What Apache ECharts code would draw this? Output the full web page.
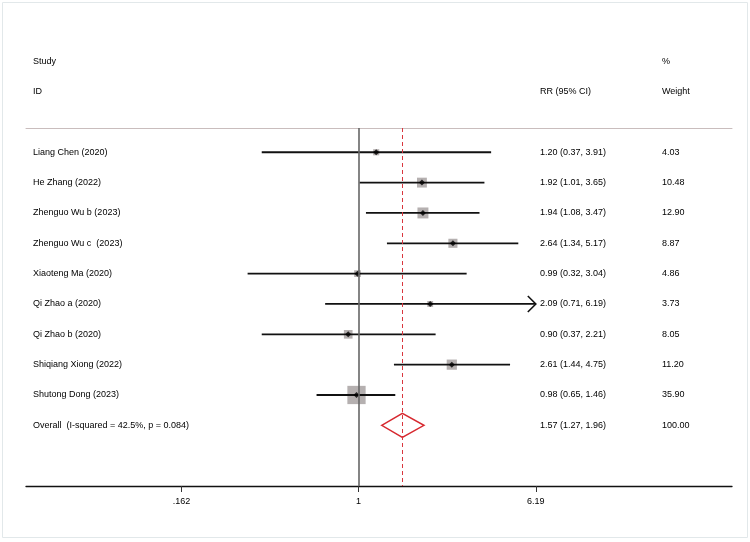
<!DOCTYPE html>
<html><head><meta charset="utf-8">
<script src="https://cdn.jsdelivr.net/npm/echarts@6/dist/echarts.min.js"></script>
<style>html,body{margin:0;padding:0;background:#fff}#c{width:750px;height:542px}</style>
</head><body><div id="c"></div>
<script>
// ---- data ----
const studies = ['Liang Chen (2020)','He Zhang (2022)','Zhenguo Wu b (2023)','Zhenguo Wu c  (2023)','Xiaoteng Ma (2020)','Qi Zhao a (2020)','Qi Zhao b (2020)','Shiqiang Xiong (2022)','Shutong Dong (2023)'];
const rr     = [1.20, 1.92, 1.94, 2.64, 0.99, 2.09, 0.90, 2.61, 0.98];
const ciLow  = [0.37, 1.01, 1.08, 1.34, 0.32, 0.71, 0.37, 1.44, 0.65];
const ciHigh = [3.91, 3.65, 3.47, 5.17, 3.04, 6.19, 2.21, 4.75, 1.46];
const weights = [4.03, 10.48, 12.90, 8.87, 4.86, 3.73, 8.05, 11.20, 35.90];
const overallLabel = 'Overall  (I-squared = 42.5%, p = 0.084)';
const overallRR = 1.57, overallLow = 1.27, overallHigh = 1.96, overallWeight = 100.00;
const tickValues = [0.162, 1, 6.19];
const tickLabels = ['.162', '1', '6.19'];
const headerStudy = ['Study', 'ID'];
const headerRR = 'RR (95% CI)';
const headerWeight = ['%', 'Weight'];

// ---- layout helpers ----
const FONT = '"Liberation Sans", Arial, Helvetica, sans-serif';
const nullValue = 1;
const clipMax = tickValues[tickValues.length - 1];
const fmt = v => v.toFixed(2);

const textRows = [];
textRows.push({row: -3, a: headerStudy[0], b: '', c: headerWeight[0]});
textRows.push({row: -2, a: headerStudy[1], b: headerRR, c: headerWeight[1]});
studies.forEach((s, i) => textRows.push({row: i, a: s, b: `${fmt(rr[i])} (${fmt(ciLow[i])}, ${fmt(ciHigh[i])})`, c: fmt(weights[i])}));
textRows.push({row: studies.length, a: overallLabel, b: `${fmt(overallRR)} (${fmt(overallLow)}, ${fmt(overallHigh)})`, c: fmt(overallWeight)});

const ciData = studies.map((s, i) => [ciLow[i], ciHigh[i], i]);
const boxData = studies.map((s, i) => ({value: [rr[i], i], w: weights[i]}));
const dotData = studies.map((s, i) => [rr[i], i]);

const chart = echarts.init(document.getElementById('c'));
chart.setOption({
  animation: false,
  backgroundColor: '#fff',
  textStyle: {fontFamily: FONT},
  graphic: [{type: 'rect', shape: {x: 2.5, y: 2.5, width: 745, height: 535}, style: {fill: 'none', stroke: '#e2e8ea', lineWidth: 1}, silent: true, z: -10}],
  grid: {left: 26, right: 18, top: 128, bottom: 56, containLabel: false},
  xAxis: [{
    type: 'log', logBase: 10, min: 0.0328, max: 46.5,
    position: 'bottom',
    splitLine: {show: false},
    axisLine: {show: true, onZero: false, lineStyle: {color: '#111', width: 1.3}},
    axisTick: {show: true, inside: false, length: 6, customValues: tickValues, lineStyle: {color: '#333', width: 1}},
    axisLabel: {show: true, customValues: tickValues, margin: 11, fontSize: 9, color: '#000', fontFamily: FONT,
      formatter: v => { const k = tickValues.findIndex(t => Math.abs(t - v) < 1e-6); return k >= 0 ? tickLabels[k] : ''; }},
    minorTick: {show: false}
  }, {
    type: 'log', logBase: 10, min: 0.0328, max: 46.5,
    position: 'top',
    splitLine: {show: false},
    axisLine: {show: true, onZero: false, lineStyle: {color: '#c9bdbd', width: 1}},
    axisTick: {show: false}, axisLabel: {show: false}
  }],
  yAxis: {type: 'value', inverse: true, min: -0.8, max: 11, show: false, splitLine: {show: false}},
  series: [
    { // reference lines
      type: 'scatter', data: [], z: 1, silent: true,
      markLine: {
        symbol: ['none', 'none'], silent: true, label: {show: false}, animation: false,
        data: [
          {xAxis: nullValue, lineStyle: {color: '#666', width: 1.6, type: 'solid'}},
          {xAxis: overallRR, lineStyle: {color: '#d9363e', width: 1, type: [4, 3]}}
        ]
      }
    },
    { // weight boxes
      type: 'scatter', z: 2, silent: true,
      symbol: 'rect',
      symbolSize: (val, p) => 3.05 * Math.sqrt(p.data.w),
      itemStyle: {color: '#b5b0b0', opacity: 1},
      data: boxData
    },
    { // CI lines
      type: 'custom', z: 3, silent: true, clip: false,
      renderItem: (params, api) => {
        const lo = api.value(0), hi = api.value(1), row = api.value(2);
        const hiV = Math.min(hi, clipMax);
        const p1 = api.coord([lo, row]), p2 = api.coord([hiV, row]);
        const children = [{type: 'line', shape: {x1: p1[0], y1: p1[1], x2: p2[0], y2: p2[1]}, style: {stroke: '#111', lineWidth: 1.8}}];
        if (hi >= clipMax) {
          children.push({type: 'polyline', shape: {points: [[p2[0] - 8, p2[1] - 8], [p2[0], p2[1]], [p2[0] - 8, p2[1] + 8]]}, style: {stroke: '#111', lineWidth: 1.6, fill: 'none'}});
        }
        return {type: 'group', children};
      },
      encode: {x: [0, 1], y: 2},
      data: ciData
    },
    { // point estimates
      type: 'scatter', z: 4, silent: true, symbol: 'diamond', symbolSize: 6,
      itemStyle: {color: '#000'},
      data: dotData
    },
    { // overall diamond
      type: 'custom', z: 4, silent: true, clip: false,
      renderItem: (params, api) => {
        const lo = api.coord([api.value(0), api.value(3)]);
        const mid = api.coord([api.value(1), api.value(3)]);
        const hi = api.coord([api.value(2), api.value(3)]);
        const h = 12;
        return {type: 'polygon', shape: {points: [[lo[0], lo[1]], [mid[0], mid[1] - h], [hi[0], hi[1]], [mid[0], mid[1] + h]]},
          style: {fill: 'none', stroke: '#d7282f', lineWidth: 1.5}};
      },
      encode: {x: [0, 1, 2], y: 3},
      data: [[overallLow, overallRR, overallHigh, studies.length]]
    },
    { // text columns
      type: 'custom', z: 5, silent: true, clip: false,
      renderItem: (params, api) => {
        const r = textRows[params.dataIndex];
        const y = api.coord([1, r.row])[1];
        const x0 = params.coordSys.x;
        const st = (t, dx) => ({type: 'text', x: x0 + dx, y: y, style: {text: t, fill: '#000', font: '9px ' + FONT, textAlign: 'left', textVerticalAlign: 'middle'}});
        return {type: 'group', children: [st(r.a, 7), st(r.b, 514), st(r.c, 636)]};
      },
      encode: {y: 1},
      data: textRows.map(r => [1, r.row])
    }
  ]
});
</script>
</body></html>
